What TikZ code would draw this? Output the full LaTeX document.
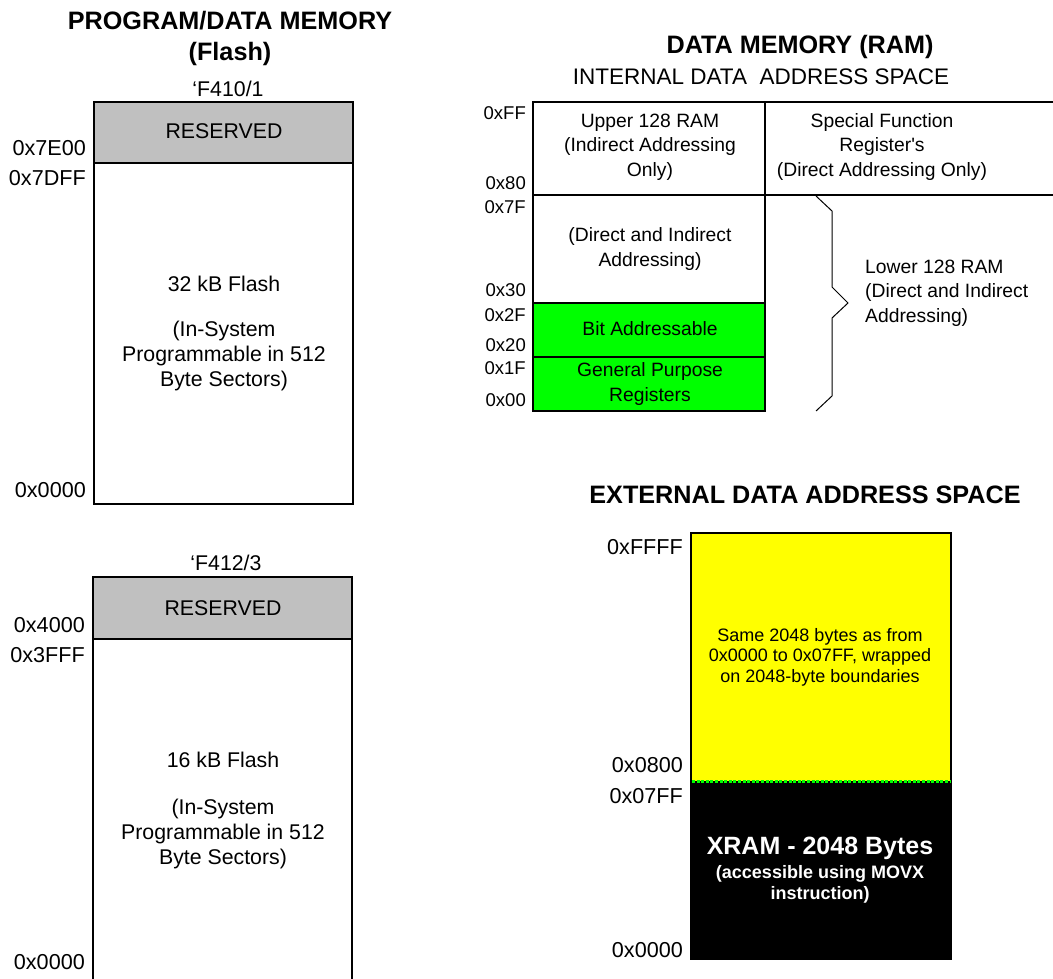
\documentclass[tikz,border=0pt]{standalone}
\usepackage{fontspec}
\setmainfont{Liberation Sans}
\newfontfamily\plainq{Liberation Sans}
\usetikzlibrary{calc}
\definecolor{resgray}{RGB}{192,192,192}
\definecolor{regreen}{RGB}{0,255,0}
\definecolor{xyellow}{RGB}{255,255,0}
\def\fsize#1#2{\fontsize{#1}{#2}\selectfont}
\tikzset{
	membox/.style={draw=black, line width=1.6pt},
	addr/.style={anchor=east, inner sep=0pt, font=\fsize{21.6}{24}},
	iaddr/.style={anchor=east, inner sep=0pt, font=\fsize{18.5}{22}},
	txt/.style={align=center, inner sep=0pt, font=\fsize{21.3}{24.7}},
	itxt/.style={align=center, inner sep=0pt, font=\fsize{19.3}{24.5}},
	head/.style={align=center, inner sep=0pt, font=\bfseries\fsize{25.2}{31}},
}

\begin{document}
\begin{tikzpicture}[x=1pt, y=-1pt]
			%%%%% START %%%%%
			\useasboundingbox (0, 0) rectangle (1053, 979);
			
			% program memory, 'F410/1
			\node[head] (pgmtitle) at (230, 38) {PROGRAM/DATA MEMORY\\(Flash)};
			\node[txt] (f410) at (228, 89) {\textquoteleft F410/1};
			\draw[membox, fill=resgray] (94, 102) rectangle (353, 163);
			\draw[membox] (94, 163) rectangle (353, 504);
			\node[txt] (res1) at (224, 131) {RESERVED};
			\node[txt] (flash32) at (224, 284) {32 kB Flash};
			\node[txt] (isp1) at (224, 356) {(In-System\\Programmable in 512\\Byte Sectors)};
			\node[addr] (a7e00) at (86, 148) {0x7E00};
			\node[addr] (a7dff) at (86, 178) {0x7DFF};
			\node[addr] (a0000p) at (86, 490) {0x0000};
			
			% program memory, 'F412/3
			\node[txt] (f412) at (226, 563) {\textquoteleft F412/3};
			\draw[membox, fill=resgray] (93, 577) rectangle (352, 639);
			\draw[membox] (93, 639) rectangle (352, 985);
			\node[txt] (res2) at (223, 608) {RESERVED};
			\node[txt] (flash16) at (223, 760) {16 kB Flash};
			\node[txt] (isp2) at (223, 834) {(In-System\\Programmable in 512\\Byte Sectors)};
			\node[addr] (a4000) at (85, 625) {0x4000};
			\node[addr] (a3fff) at (85, 655) {0x3FFF};
			\node[addr] (a0000q) at (85, 962) {0x0000};
			
			% internal data ram
			\node[head] (ramtitle) at (800, 47) {DATA MEMORY (RAM)};
			\node[txt, font=\fsize{22.5}{25}] (inttitle) at (761, 77) {INTERNAL DATA\ \ ADDRESS SPACE};
			\fill[regreen] (533, 303) rectangle (765, 411);
			\draw[membox] (533, 102) -- (1060, 102);
			\draw[membox] (533, 195) -- (1060, 195);
			\draw[membox] (533, 102) rectangle (765, 411);
			\draw[membox] (533, 303) -- (765, 303);
			\draw[membox] (533, 357) -- (765, 357);
			\node[itxt] (upper) at (650, 147) {Upper 128 RAM\\(Indirect Addressing\\Only)};
			\node[itxt] (sfr) at (882, 147) {Special Function\\Register{\plainq '}s\\(Direct Addressing Only)};
			\node[itxt] (dirind) at (650, 249) {(Direct and Indirect\\Addressing)};
			\node[itxt] (bitadr) at (650, 329) {Bit Addressable};
			\node[itxt] (gpreg) at (650, 384) {General Purpose\\Registers};
			\node[itxt, align=left, anchor=west] (lower) at (865, 293) {Lower 128 RAM\\(Direct and Indirect\\Addressing)};
			\draw[line width=1pt] (816, 196) -- (832, 211) -- (832, 287) -- (848, 303) -- (832, 318) -- (832, 396) -- (816, 411);
			\node[iaddr] (aff) at (526, 113) {0xFF};
			\node[iaddr] (a80) at (526, 183) {0x80};
			\node[iaddr] (a7f) at (526, 207) {0x7F};
			\node[iaddr] (a30) at (526, 290) {0x30};
			\node[iaddr] (a2f) at (526, 315) {0x2F};
			\node[iaddr] (a20) at (526, 345) {0x20};
			\node[iaddr] (a1f) at (526, 368) {0x1F};
			\node[iaddr] (a00) at (526, 400) {0x00};
			
			% external data ram
			\node[head] (exttitle) at (805, 495) {EXTERNAL DATA ADDRESS SPACE};
			\fill[xyellow] (691, 533) rectangle (951, 781);
			\fill[black] (691, 781) rectangle (951, 959);
			\draw[membox] (691, 533) rectangle (951, 959);
			\draw[regreen, line width=3pt, dash pattern=on 3pt off 1.6pt] (692, 781) -- (950, 781);
			\node[align=center, inner sep=0pt, font=\fsize{18}{20.5}] (wrap) at (820, 657) {Same 2048 bytes as from\\0x0000 to 0x07FF, wrapped\\on 2048-byte boundaries};
			\node[inner sep=0pt, text=white, font=\bfseries\fsize{25}{27}] (xram) at (820, 848) {XRAM - 2048 Bytes};
			\node[align=center, inner sep=0pt, text=white, font=\bfseries\fsize{18}{21}] (movx) at (820, 884) {(accessible using MOVX\\instruction)};
			\node[addr] (affff) at (683, 547) {0xFFFF};
			\node[addr] (a0800) at (683, 765) {0x0800};
			\node[addr] (a07ff) at (683, 796) {0x07FF};
			\node[addr] (a0000x) at (683, 950) {0x0000};
			
			%%%%% END %%%%%
\end{tikzpicture}
\end{document}
